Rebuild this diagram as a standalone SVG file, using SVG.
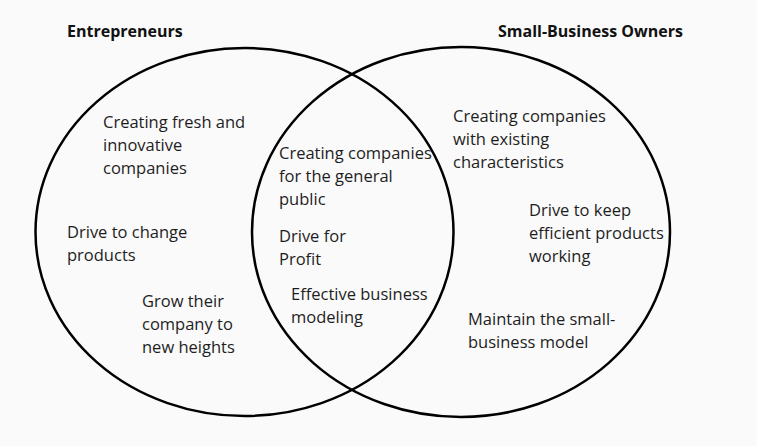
<svg xmlns="http://www.w3.org/2000/svg" width="757" height="446" viewBox="0 0 757 446">
<style>
.set{fill:none;stroke:#000;stroke-width:2.5}
.t{font-family:"Open Sans","Noto Sans","Liberation Sans",sans-serif;font-size:16.5px;fill:#1e1e1e}
.h{font-family:"Open Sans","Noto Sans","Liberation Sans",sans-serif;font-size:16px;font-weight:bold;fill:#111}
</style>
<rect width="757" height="446" fill="#fafafa"/>
<g id="entrepreneurs">
<ellipse class="set" cx="244.5" cy="232" rx="209" ry="184"/>
<text class="h" x="67" y="37">Entrepreneurs</text>
</g>
<g id="small-business-owners">
<ellipse class="set" cx="461" cy="232" rx="209" ry="185"/>
<text class="h" x="498" y="37">Small-Business Owners</text>
</g>
<g id="connectors"></g>
<g id="ent-fresh">
<text class="t" x="103" y="128">Creating fresh and</text>
<text class="t" x="103" y="151">innovative</text>
<text class="t" x="103" y="174">companies</text>
</g>
<g id="ent-change">
<text class="t" x="67" y="238">Drive to change</text>
<text class="t" x="67" y="261">products</text>
</g>
<g id="ent-grow">
<text class="t" x="142" y="307">Grow their</text>
<text class="t" x="142" y="330">company to</text>
<text class="t" x="142" y="353">new heights</text>
</g>
<g id="both-public">
<text class="t" x="279" y="159">Creating companies</text>
<text class="t" x="279" y="182">for the general</text>
<text class="t" x="279" y="205">public</text>
</g>
<g id="both-profit">
<text class="t" x="279" y="242">Drive for</text>
<text class="t" x="279" y="265">Profit</text>
</g>
<g id="both-modeling">
<text class="t" x="291" y="300">Effective business</text>
<text class="t" x="291" y="323">modeling</text>
</g>
<g id="sbo-existing">
<text class="t" x="453" y="122">Creating companies</text>
<text class="t" x="453" y="145">with existing</text>
<text class="t" x="453" y="168">characteristics</text>
</g>
<g id="sbo-keep">
<text class="t" x="529" y="216">Drive to keep</text>
<text class="t" x="529" y="239">efficient products</text>
<text class="t" x="529" y="262">working</text>
</g>
<g id="sbo-maintain">
<text class="t" x="468" y="325">Maintain the small-</text>
<text class="t" x="468" y="348">business model</text>
</g>
</svg>
